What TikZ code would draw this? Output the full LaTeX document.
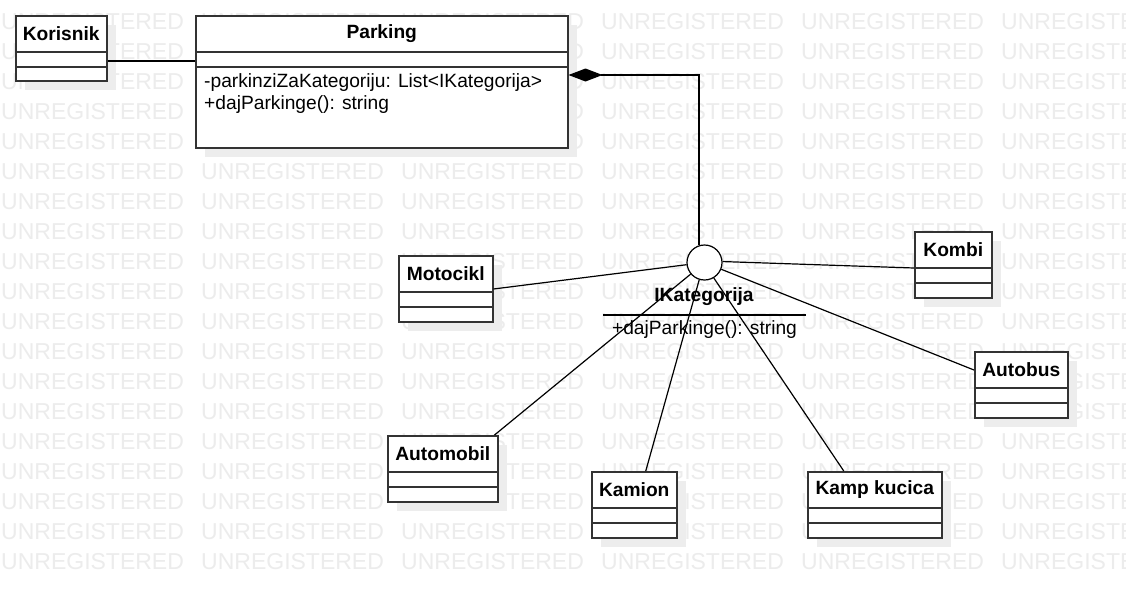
\documentclass[tikz,border=0pt]{standalone}
\usepackage{fontspec}
\setmainfont{Liberation Sans}
\usetikzlibrary{calc,arrows.meta}
\definecolor{wmcol}{HTML}{ECECEC}
\definecolor{shcol}{HTML}{EDEDED}
\definecolor{edgecol}{HTML}{333333}
\tikzset{
  wm/.style={text=wmcol, font=\fontsize{23}{23}\selectfont, inner sep=0pt, anchor=base west},
  clsbox/.style={draw=edgecol, line width=1.5pt, fill=white, rectangle, inner sep=0pt},
  sepline/.style={draw=edgecol, line width=1.3pt},
  clsname/.style={font=\fontsize{19.2}{22}\bfseries\selectfont, inner sep=0pt},
  attr/.style={font=\fontsize{19.2}{22}\selectfont, inner sep=0pt, anchor=base west},
  conn/.style={draw=black, line width=1.2pt},
  shadowbox/.style={fill=shcol, draw=none}
}
\newcommand\umlcls[8]{%
  \fill[shadowbox] (#2+10,#3+10) rectangle (#2+#4+10,#3+#5+10);
  \node[clsbox, minimum width=#4pt, minimum height=#5pt, anchor=north west] (#1) at (#2,#3) {};
  \draw[sepline] ($(#1.north west)+(0,#6)$) -- ($(#1.north east)+(0,#6)$);
  \draw[sepline] ($(#1.north west)+(0,#7)$) -- ($(#1.north east)+(0,#7)$);
  \node[clsname] (#1-t) at ($(#1.north)+(0,#6/2+0.5)$) {#8};
}
\begin{document}
\begin{tikzpicture}[x=1pt,y=-1pt]
\useasboundingbox[fill=white] (0,0) rectangle (1126,597);
% watermark
\foreach \r in {0,...,18}{
  \foreach \c in {0,...,5}{
    \node[wm] at (\c*200+1, 29.5+\r*30) {UNREGISTERED};
  }
}
% classes
\umlcls{kor}{15}{15}{91}{65}{37}{52}{Korisnik}
\umlcls{par}{195}{15}{372}{132}{37}{52}{Parking}
\umlcls{mot}{398}{255}{94}{66}{37}{52}{Motocikl}
\umlcls{kom}{914}{231}{77}{66}{37}{52}{Kombi}
\umlcls{abus}{974}{351}{93}{66}{37}{52}{Autobus}
\umlcls{amob}{387}{435}{110}{66}{37}{52}{Automobil}
\umlcls{kam}{591}{471}{85}{66}{37}{52}{Kamion}
\umlcls{kmp}{807}{471}{134}{66}{37}{52}{Kamp kucica}
% Parking attributes
\node[attr] (pa1) at (204,87) {-parkinziZaKategoriju: List<IKategorija>};
\node[attr] (pa2) at (204,109) {+dajParkinge(): string};
% interface lollipop
\node[circle, draw=black, line width=1.2pt, fill=white, minimum size=35pt, inner sep=0pt] (circ) at (704.5,262.5) {};
\node[clsname] (ik) at (704,297) {IKategorija};
\coordinate (ikl) at (603,315);
\coordinate (ikr) at (806,315);
\draw[conn] (ikl) -- (ikr);
\node[font=\fontsize{19.2}{22}\selectfont, inner sep=0pt] (ikm) at (704.5,330) {+dajParkinge(): string};
% connectors
\coordinate (ykp) at (0,61);
\draw[conn] (kor.east |- ykp) -- (par.west |- ykp);
\coordinate (ycomp) at (0,75);
\draw[conn, -{Diamond[length=34pt,width=13pt,fill=black]}] (circ.108) |- (par.east |- ycomp);
\draw[conn] (circ.187) -- ($(mot.north east)+(0,34)$);
\draw[conn] (circ.3) -- ($(kom.north west)+(0,37)$);
\draw[conn] (circ.-22) -- ($(abus.north west)+(0,19)$);
\draw[conn] (circ.-140) -- ($(amob.north east)+(-4,0)$);
\draw[conn] (circ.-107) -- ($(kam.north)+(11.5,0)$);
\draw[conn] (circ.-59) -- ($(kmp.north)+(-31,0)$);
\end{tikzpicture}
\end{document}
